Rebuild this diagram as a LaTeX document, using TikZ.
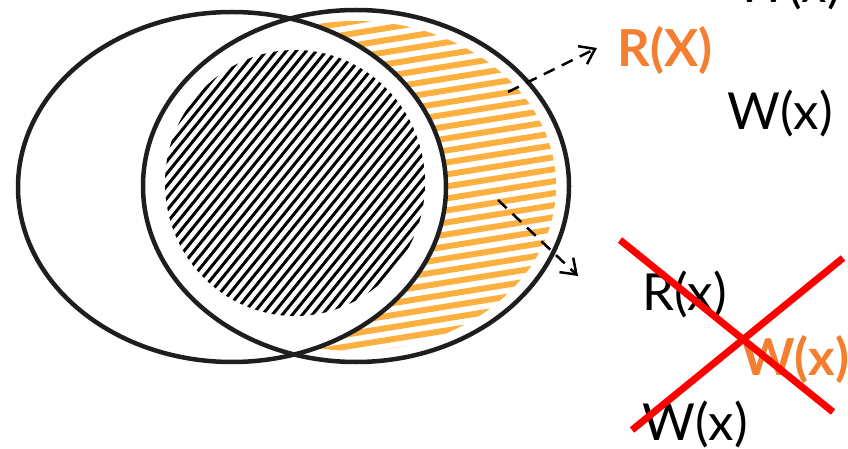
\documentclass[tikz,border=0pt]{standalone}
\usepackage{fontspec}
\setmainfont{Lato}
\usepackage{tikz}
\usetikzlibrary{arrows.meta}
\usepackage{xcolor}
\definecolor{inkblack}{HTML}{1E1E1E}
\definecolor{hatchorange}{HTML}{FBB040}
\definecolor{textorange}{HTML}{F47F30}
\definecolor{crossred}{HTML}{FF0000}

\begin{document}
\begin{tikzpicture}[x=1pt, y=-1pt, >={Straight Barb[length=14pt, width=20pt]},
    setline/.style={draw=inkblack, line width=4.5pt},
    lbl/.style={inner sep=0pt, anchor=base west, font=\fontsize{51}{60}\selectfont},
    hot/.style={lbl, text=textorange, font=\fontsize{51}{60}\selectfont\bfseries},
    hint/.style={->, black, line width=2.5pt, dash pattern=on 12pt off 8pt},
    strike/.style={crossred, line width=7pt}]
    \useasboundingbox (0,0) rectangle (848,449);

    % Hatching
    \begin{scope}
        \clip (356,186) ellipse [x radius=200, y radius=165];
        \begin{scope}[even odd rule]
            \clip (232,187) ellipse [x radius=214, y radius=175] (0,0) rectangle (848,449);
            \foreach \k in {0,...,30}
                \draw[hatchorange, line width=6pt, line cap=round] (300,30+12*\k) -- ++(280,-45);
        \end{scope}
    \end{scope}
    \begin{scope}
        \clip (295,183) ellipse [x radius=130, y radius=133];
        \foreach \k in {0,...,48}
            \draw[black, line width=3pt] (-50+10*\k,330) -- ++(240,-296);
    \end{scope}

    % Sets
    \draw[setline] (232,187) ellipse [x radius=214, y radius=175];
    \draw[setline] (356,186) ellipse [x radius=213, y radius=176];

    % Nodes
    \node[lbl] (wtop) at (735,3) {W(x)};
    \node[hot] (rX) at (617,67) {R(X)};
    \node[lbl] (wmid) at (727,130) {W(x)};
    \node[lbl] (rlow) at (642,310) {R(x)};
    \node[hot] (wlow) at (741,375) {W(x)};
    \node[lbl] (wbot) at (642,440) {W(x)};

    \coordinate (up) at (508,92);
    \coordinate (upend) at (597,48);
    \coordinate (down) at (498,200);
    \coordinate (downend) at (578,276);
    \coordinate (xa) at (620,240);
    \coordinate (xb) at (833,412);
    \coordinate (xc) at (843,258);
    \coordinate (xd) at (632,430);

    % Connections
    \draw[hint] (up) -- (upend);
    \draw[hint] (down) -- (downend);
    \draw[strike] (xa) -- (xb);
    \draw[strike] (xc) -- (xd);
\end{tikzpicture}
\end{document}
